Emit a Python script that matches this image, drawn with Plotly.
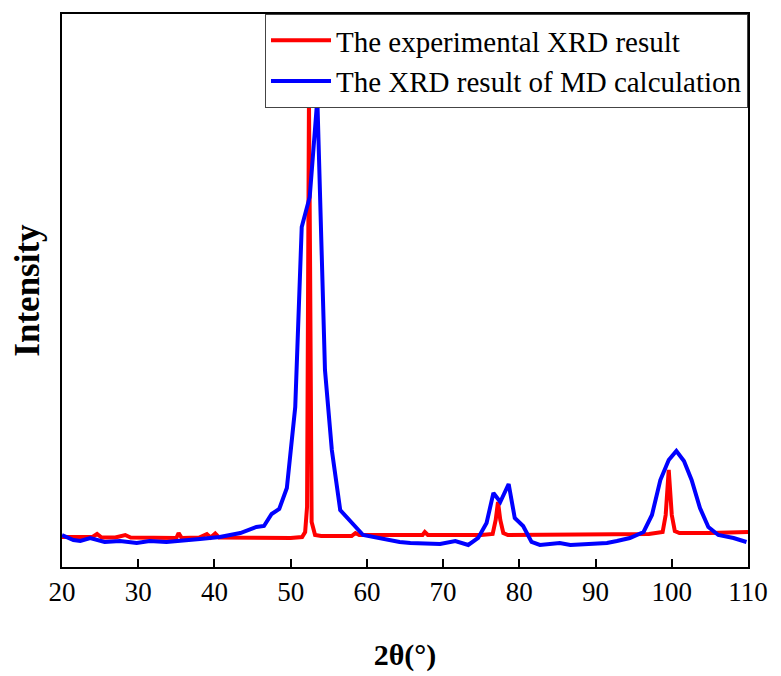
import plotly.graph_objects as go

# Experimental XRD (2theta in degrees, intensity in arbitrary units)
exp_2theta = [20, 22, 24, 24.6, 25.2, 27, 28.3, 29, 32, 35.0, 35.3, 35.7, 38, 39, 39.5, 40.1, 40.6,
              45, 50, 51.5, 51.9, 52.15, 52.3, 52.4, 52.55, 52.75, 53.2, 54, 58, 58.5, 59, 60, 65,
              67.3, 67.6, 68, 75, 76.5, 76.9, 77.2, 77.5, 77.9, 78.5, 85, 90, 97, 98.8, 99.2, 99.6,
              100.0, 100.4, 101, 105, 110]
exp_int = [30, 29.5, 30, 33, 29.5, 29.5, 32, 29.5, 29, 29, 34, 29, 29.5, 33, 29.5, 33.5, 29.5,
           29, 29, 30, 35, 60, 400, 468, 300, 45, 32, 31, 31, 34, 32, 32, 32,
           32, 35, 32, 32, 33, 47, 65, 47, 34, 32, 32.5, 33, 33, 35, 52, 97,
           52, 36, 34, 34, 35]

# MD calculated XRD
md_2theta = [20, 21.5, 22.4, 23.7, 25.6, 27.6, 29.8, 31.5, 33.7, 35.9, 38.1, 40.7, 43.4, 45.5, 46.5,
             47.5, 48.5, 49.5, 50.6, 51.45, 52.5, 53.5, 54.5, 55.4, 56.5, 59.5, 62.6, 64.3, 65.7,
             67.9, 69.6, 71.6, 73.3, 74.6, 75.7, 76.6, 77.5, 78.6, 79.4, 80.5, 81.6, 82.7, 85.3,
             86.7, 88.8, 91.5, 92.8, 94.5, 96.3, 97.4, 98.5, 99.6, 100.6, 101.6, 102.6, 103.7,
             104.8, 106.1, 108.1, 109.8]
md_int = [32, 27, 26, 29, 25, 26, 24, 26, 25, 26, 28, 30, 34, 40, 41, 53, 58, 79, 160, 340, 370,
          468, 197, 117, 57, 32, 27, 25, 24, 24, 23, 26, 22, 29, 44, 74, 65, 83, 49, 41, 25, 22,
          24, 22, 23, 24, 26, 29, 35, 52, 87, 107, 116, 106, 87, 59, 40, 32, 29, 25]

x_ticks = [20, 30, 40, 50, 60, 70, 80, 90, 100, 110]

font_family = "Liberation Serif"

fig = go.Figure()
fig.add_trace(go.Scatter(x=exp_2theta, y=exp_int, mode="lines",
                         line=dict(color="#ff0000", width=4),
                         name="The experimental XRD result"))
fig.add_trace(go.Scatter(x=md_2theta, y=md_int, mode="lines",
                         line=dict(color="#0000ff", width=4),
                         name="The XRD result of MD calculation"))

fig.update_layout(
    width=773, height=668,
    margin=dict(l=54, r=33, t=6, b=109, autoexpand=False),
    plot_bgcolor="white", paper_bgcolor="white",
    font=dict(family=font_family, color="black"),
    showlegend=True,
    legend=dict(x=1, y=1, xanchor="right", yanchor="top",
                bgcolor="white", bordercolor="#444", borderwidth=1,
                font=dict(size=29, family=font_family), itemwidth=60,
                tracegroupgap=0),
    xaxis=dict(range=[20, 110], tickvals=x_ticks,
               ticks="inside", ticklen=8, tickwidth=2, tickcolor="black",
               showline=True, linecolor="black", linewidth=2, mirror=True,
               showgrid=False, zeroline=False, automargin=False,
               tickfont=dict(size=27, family=font_family),
               title=dict(text="<b>2θ(°)</b>", font=dict(size=30, family=font_family), standoff=38)),
    yaxis=dict(range=[0, 553], showticklabels=False, ticks="",
               showline=True, linecolor="black", linewidth=2, mirror=True,
               showgrid=False, zeroline=False, automargin=False,
               title=dict(text="<b>Intensity</b>", font=dict(size=35, family=font_family), standoff=14)),
)

fig.write_html("out.html")
